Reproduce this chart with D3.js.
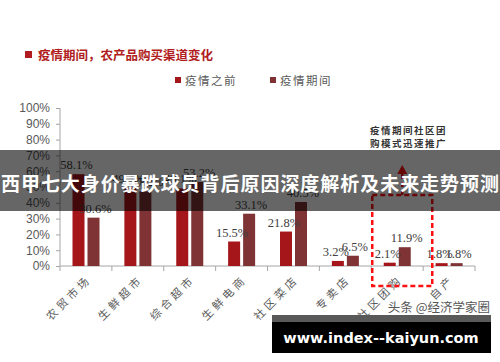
<!DOCTYPE html>
<html lang="zh">
	<head>
		<meta charset="utf-8">
		<title>疫情期间，农产品购买渠道变化</title>
		<script type="text/javascript" src="https://d3js.org/d3.v7.min.js"></script>
		<style type="text/css">
			body { margin: 0; background: #fff; }
			svg { display: block; }
			.cjk { font-family: "Noto Sans CJK SC", sans-serif; }
			.tick text { font-family: "Liberation Sans", Arial, sans-serif; font-size: 12px; fill: #595959; }
			.val { font-family: "Liberation Serif", "Times New Roman", serif; font-size: 12.5px; fill: #404040; }
		</style>
	</head>
	<body>
		<script type="text/javascript">

			// data (percent)
			var categories = ["农贸市场", "生鲜超市", "综合超市", "生鲜电商", "社区菜店", "专卖店", "社区团购", "自产"];
			var seriesNames = ["疫情之前", "疫情期间"];
			var before = [58.1, 49.4, 49.1, 15.5, 21.8, 3.2, 2.1, 1.8];
			var during = [30.6, 47.2, 53.2, 33.1, 40.5, 6.5, 11.9, 1.8];
			var yTicks = [0, 10, 20, 30, 40, 50, 60, 70, 80, 90, 100];

			var w = 500, h = 362;
			var colors = ["#a5161b", "#7f3335"];

			var svg = d3.select("body").append("svg")
						.attr("width", w)
						.attr("height", h);

			var x = d3.scaleBand().domain(categories).range([60, 475]);
			var x1 = d3.scaleBand().domain(seriesNames).range([12.5, 39.5]).paddingInner(0.2);
			var y = d3.scaleLinear().domain([0, 100]).range([266, 108]);

			//Title
			svg.append("rect").attr("x", 25).attr("y", 51).attr("width", 7).attr("height", 7).attr("fill", "#b01c20");
			svg.append("text").attr("class", "cjk")
				.attr("x", 38).attr("y", 59.5)
				.attr("font-size", 12.5).attr("font-weight", "bold").attr("fill", "#b01c20")
				.text("疫情期间，农产品购买渠道变化");

			//Legend
			var legX = [175, 270];
			seriesNames.forEach(function(name, i) {
				svg.append("rect").attr("x", legX[i]).attr("y", 77).attr("width", 6).attr("height", 6).attr("fill", colors[i]);
				svg.append("text").attr("class", "cjk")
					.attr("x", legX[i] + 10).attr("y", 85)
					.attr("font-size", 11.5).attr("letter-spacing", 1.5).attr("fill", "#595959")
					.text(name);
			});

			//Y axis
			var yAxis = d3.axisLeft(y).tickValues(yTicks).tickSize(4).tickPadding(6)
							.tickFormat(function(d) { return d + "%"; });
			var gy = svg.append("g").attr("transform", "translate(60,0)").call(yAxis);
			gy.selectAll("path, line").attr("stroke", "#a6a6a6");
			gy.select(".domain").attr("d", "M0," + y(100) + "V" + y(0));

			//X axis
			var gx = svg.append("g").attr("transform", "translate(0," + y(0) + ")");
			gx.append("line").attr("x1", 60).attr("x2", 475).attr("stroke", "#a6a6a6");
			gx.selectAll("line.tk").data(categories.concat([null])).enter().append("line")
				.attr("class", "tk")
				.attr("x1", function(d) { return d === null ? 475 : x(d); })
				.attr("x2", function(d) { return d === null ? 475 : x(d); })
				.attr("y2", 5).attr("stroke", "#a6a6a6");
			gx.selectAll("text.cat").data(categories).enter().append("text")
				.attr("class", "cjk cat")
				.attr("text-anchor", "end")
				.attr("font-size", 11).attr("letter-spacing", 3.5).attr("fill", "#595959")
				.attr("transform", function(d) {
					return "translate(" + (x(d) + x.bandwidth() / 2 + 6) + ",14) rotate(-45)";
				})
				.text(function(d) { return d; });

			//Bars
			var rows = categories.map(function(c, i) { return { cat: c, vals: [before[i], during[i]] }; });
			var groups = svg.selectAll("g.grp").data(rows).enter().append("g")
							.attr("class", "grp")
							.attr("transform", function(d) { return "translate(" + x(d.cat) + ",0)"; });

			groups.selectAll("rect").data(function(d) { return d.vals; }).enter().append("rect")
				.attr("x", function(d, i) { return x1(seriesNames[i]); })
				.attr("y", function(d) { return y(d); })
				.attr("width", x1.bandwidth())
				.attr("height", function(d) { return y(0) - y(d); })
				.attr("fill", function(d, i) { return colors[i]; });

			groups.selectAll("text").data(function(d) { return d.vals; }).enter().append("text")
				.attr("class", "val")
				.attr("text-anchor", "middle")
				.attr("x", function(d, i) { return x1(seriesNames[i]) + x1.bandwidth() / 2 + (i == 1 ? 2 : -2); })
				.attr("y", function(d) { return y(d) - 5; })
				.text(function(d) { return d.toFixed(1) + "%"; });

			//Red dashed box around 社区团购
			var bx = x("社区团购") + 1, bw = 60, by = y(45), bb = 286;
			svg.append("rect").attr("x", bx).attr("y", by).attr("width", bw).attr("height", bb - by)
				.attr("fill", "none").attr("stroke", "#ff1010").attr("stroke-width", 2.5).attr("stroke-dasharray", "5,3");
			svg.append("line").attr("x1", bx + bw / 2).attr("x2", bx + bw / 2).attr("y1", by).attr("y2", 172)
				.attr("stroke", "#ff1010").attr("stroke-width", 2.5).attr("stroke-dasharray", "5,3");
			svg.append("path")
				.attr("d", "M" + (bx + bw / 2 - 5) + ",174L" + (bx + bw / 2) + ",165L" + (bx + bw / 2 + 5) + ",174Z")
				.attr("fill", "#ff1010");
			var note = ["疫情期间社区团", "购模式迅速推广"];
			svg.selectAll("text.note").data(note).enter().append("text")
				.attr("class", "cjk note")
				.attr("x", 370).attr("y", function(d, i) { return 134 + i * 13; })
				.attr("font-size", 9.5).attr("font-weight", "bold").attr("letter-spacing", 1.5).attr("fill", "#333")
				.text(function(d) { return d; });

			//Overlay banner
			svg.append("rect").attr("x", 0).attr("y", 150).attr("width", w).attr("height", 61)
				.attr("fill", "rgba(0,0,0,0.6)");
			svg.append("text").attr("class", "cjk")
				.attr("x", w / 2).attr("y", 191).attr("text-anchor", "middle")
				.attr("font-size", 19).attr("font-weight", "bold").attr("fill", "#fff")
				.attr("textLength", 498)
				.text("西甲七大身价暴跌球员背后原因深度解析及未来走势预测");

			//Watermarks
			svg.append("text").attr("class", "cjk")
				.attr("x", 490).attr("y", 312).attr("text-anchor", "end")
				.attr("font-size", 12.5).attr("fill", "#555")
				.text("头条 @经济学家圈");
			svg.append("rect").attr("x", 272).attr("y", 315).attr("width", 219).attr("height", 7).attr("fill", "#595959");
			svg.append("rect").attr("x", 272).attr("y", 322).attr("width", 219).attr("height", 31).attr("fill", "#000");
			svg.append("text")
				.attr("x", 381).attr("y", 343).attr("text-anchor", "middle")
				.attr("font-family", "DejaVu Sans, sans-serif").attr("font-size", 14.5).attr("font-weight", "bold").attr("fill", "#fff")
				.text("www.index--kaiyun.com");

		</script>
	</body>
</html>
